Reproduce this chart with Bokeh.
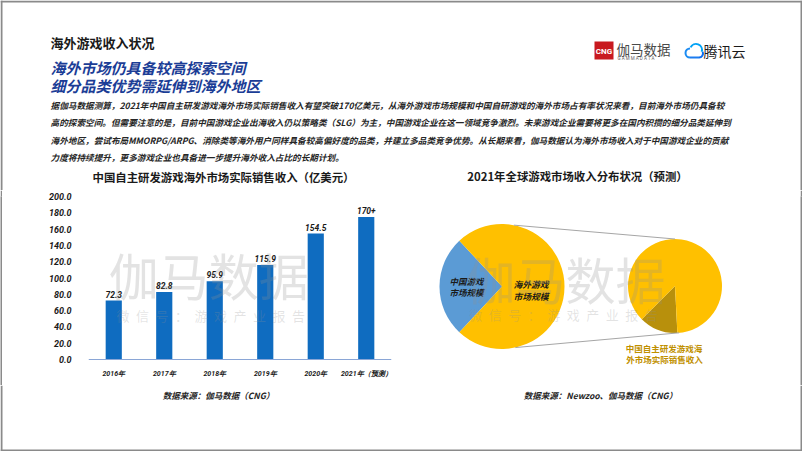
import numpy as np
from bokeh.plotting import figure
from bokeh.models import Range1d, FactorRange, FixedTicker, ColumnDataSource
from bokeh.layouts import column, row
from bokeh.embed import file_html
from bokeh.resources import INLINE
from bokeh.core.properties import value

# ---------------- data ----------------
page_title = "海外游戏收入状况"
headlines = ["海外市场仍具备较高探索空间", "细分品类优势需延伸到海外地区"]
paragraph_lines = [
    "据伽马数据测算，2021年中国自主研发游戏海外市场实际销售收入有望突破170亿美元，从海外游戏市场规模和中国自研游戏的海外市场占有率状况来看，目前海外市场仍具备较",
    "高的探索空间。但需要注意的是，目前中国游戏企业出海收入仍以策略类（SLG）为主，中国游戏企业在这一领域竞争激烈。未来游戏企业需要将更多在国内积攒的细分品类延伸到",
    "海外地区，尝试布局MMORPG/ARPG、消除类等海外用户同样具备较高偏好度的品类，并建立多品类竞争优势。从长期来看，伽马数据认为海外市场收入对于中国游戏企业的贡献",
    "力度将持续提升，更多游戏企业也具备进一步提升海外收入占比的长期计划。",
]
bar_title = "中国自主研发游戏海外市场实际销售收入（亿美元）"
pie_title = "2021年全球游戏市场收入分布状况（预测）"

years = ["2016年", "2017年", "2018年", "2019年", "2020年", "2021年（预测）"]
revenue = [72.3, 82.8, 95.9, 115.9, 154.5, 175.0]
revenue_labels = ["72.3", "82.8", "95.9", "115.9", "154.5", "170+"]
y_ticks = [0, 20, 40, 60, 80, 100, 120, 140, 160, 180, 200]
y_tick_labels = ["0.0", "20.0", "40.0", "60.0", "80.0", "100.0", "120.0", "140.0", "160.0", "180.0", "200.0"]

global_segments = ["中国游戏\n市场规模", "海外游戏\n市场规模"]
global_share = [26.1, 73.9]
overseas_segments = ["中国自主研发游戏海\n外市场实际销售收入", "其他"]
overseas_share = [13.3, 86.7]

sources = ["数据来源：伽马数据（CNG）", "数据来源：Newzoo、伽马数据（CNG）"]
watermark = ["伽马数据", "微\u2002信\u2002号\u2002：\u2002游\u2002戏\u2002产\u2002业\u2002报\u2002告"]

# ---------------- styles ----------------
CJK = value("Noto Sans CJK SC")
NUM = value("Roboto")
BORDER = "#8a8a8a"
BAR_BLUE = "#0f6cc0"
PIE_BLUE = "#5b9bd5"
PIE_YELLOW = "#ffc000"
PIE_DARK = "#b8900c"
HEAD_BLUE = "#1b3d96"

ROW_TOP, ROW_H = 190, 195
BORDER_TOP = 6                       # shared by all plots of the middle row
FRAME_TOP = ROW_TOP + BORDER_TOP     # 196 -> value 200
FRAME_BOTTOM = ROW_TOP + ROW_H       # 385
AXIS_Y = 359                         # pixel row of value 0
PX_PER_UNIT = (AXIS_Y - FRAME_TOP) / 200.0


def page_fig(w, h, x0, y0):
    p = figure(width=w, height=h, x_range=Range1d(x0, x0 + w), y_range=Range1d(y0 + h, y0),
               toolbar_location=None, output_backend="svg", min_border=0,
               x_axis_location=None, y_axis_location=None)
    p.grid.visible = False
    p.outline_line_color = None
    p.background_fill_color = "white"
    p.border_fill_color = "white"
    return p


def strip(h):
    p = figure(width=2, height=h, toolbar_location=None, output_backend="svg", min_border=0,
               min_border_top=BORDER_TOP, x_axis_location=None, y_axis_location=None)
    p.grid.visible = False
    p.outline_line_color = None
    p.background_fill_color = BORDER
    p.border_fill_color = BORDER
    return p


# ---------------- top area ----------------
top = page_fig(802, 190, 0, 0)
top.segment(x0=[0, 1, 801], y0=[1, 0, 0], x1=[802, 1, 801], y1=[1, 190, 190],
            line_color=BORDER, line_width=2)
top.text(x=[50], y=[42], text=[page_title], text_font=CJK, text_font_size="13px",
         text_font_style="bold", text_color="#1a1a1a", text_baseline="middle")
top.text(x=[50, 50], y=[67, 85], text=headlines, text_font=CJK, text_font_size="15px",
         text_font_style="bold italic", text_color=HEAD_BLUE, text_baseline="middle")
top.text(x=[50] * 4, y=[104, 121.5, 139, 156.5], text=paragraph_lines, text_font=CJK,
         text_font_size="8.65px", text_font_style="bold italic", text_color="#262626",
         text_baseline="middle")
top.text(x=[223, 577], y=[176, 175], text=[bar_title, pie_title], text_font=CJK,
         text_font_size="11.4px", text_font_style="bold", text_color="#1a1a1a",
         text_align="center", text_baseline="middle")
# logos
top.rect(x=[603.5], y=[50], width=19, height=18, fill_color="#c8191f", line_color=None)
top.text(x=[603.5], y=[50.5], text=["CNG"], text_font=NUM, text_font_size="8px",
         text_font_style="bold", text_color="white", text_align="center", text_baseline="middle")
top.text(x=[616], y=[48], text=["伽马数据"], text_font=CJK, text_font_size="13.5px",
         text_color="#4a4a4a", text_baseline="middle")
top.text(x=[617], y=[58], text=["G  A  M  M  A    D  A  T  A"], text_font=NUM, text_font_size="4.5px",
         text_color="#666666", text_baseline="middle")
top.arc(x=[689.5], y=[52.5], radius=4.5, start_angle=np.pi / 2, end_angle=3 * np.pi / 2,
        line_color="#1c8cf2", line_width=2)
top.arc(x=[695.5], y=[49.5], radius=6, start_angle=-0.3, end_angle=2.7,
        line_color="#00a2f5", line_width=2)
top.arc(x=[698.5], y=[53], radius=4, start_angle=-np.pi / 2, end_angle=0.4,
        line_color="#0a6cf0", line_width=2)
top.segment(x0=[689.5], y0=[57], x1=[698.5], y1=[57], line_color="#1c7cf0", line_width=2)
top.text(x=[703], y=[50], text=["腾讯云"], text_font=CJK, text_font_size="14px",
         text_color="#1a1a1a", text_baseline="middle")

# ---------------- bar chart ----------------
y_low = -(FRAME_BOTTOM - AXIS_Y) / PX_PER_UNIT
bar = figure(width=398, height=ROW_H, x_range=FactorRange(*years), y_range=Range1d(y_low, 200),
             toolbar_location=None, output_backend="svg",
             min_border_left=86, min_border_right=9,
             min_border_top=BORDER_TOP, min_border_bottom=0)
bar.grid.visible = False
bar.outline_line_color = None
src = ColumnDataSource(dict(x=years, top=revenue, lab=revenue_labels))
bar.vbar(x="x", top="top", width=0.32, source=src, fill_color=BAR_BLUE, line_color=None)
bar.text(x="x", y="top", text="lab", source=src, text_font=NUM, text_font_size="8.5px",
         text_font_style="bold italic", text_color="#1a1a1a", text_align="center",
         text_baseline="bottom", y_offset=-3)
bar.text(x=["2018年"], y=[105.5], text=[watermark[0]], x_offset=-6, text_font=CJK,
         text_font_size="50px", text_color="#909090", text_alpha=0.25,
         text_align="center", text_baseline="middle")
bar.text(x=["2018年"], y=[54], text=[watermark[1]], x_offset=-4, text_font=CJK,
         text_font_size="13px", text_color="#909090", text_alpha=0.25,
         text_align="center", text_baseline="middle")
bar.yaxis.ticker = FixedTicker(ticks=y_ticks)
bar.yaxis.major_label_overrides = dict(zip(y_ticks, y_tick_labels))
bar.yaxis.axis_line_color = None
bar.yaxis.major_tick_line_color = None
bar.yaxis.minor_tick_line_color = None
bar.yaxis.major_label_standoff = 11
bar.yaxis.major_label_text_font = "Roboto"
bar.yaxis.major_label_text_font_size = "9px"
bar.yaxis.major_label_text_font_style = "bold italic"
bar.yaxis.major_label_text_color = "#1a1a1a"
bar.xaxis.fixed_location = 0
bar.xaxis.axis_line_color = "#8aa6d6"
bar.xaxis.axis_line_width = 1.2
bar.xaxis.major_tick_line_color = None
bar.xaxis.minor_tick_line_color = None
bar.xaxis.major_label_standoff = 4
bar.xaxis.major_label_text_font = "Roboto"
bar.xaxis.major_label_text_font_size = "7px"
bar.xaxis.major_label_text_font_style = "bold italic"
bar.xaxis.major_label_text_color = "#1a1a1a"

# ---------------- pie of pie ----------------
pie = figure(width=400, height=ROW_H, x_range=Range1d(400, 800),
             y_range=Range1d(FRAME_BOTTOM, FRAME_TOP),
             toolbar_location=None, output_backend="svg",
             min_border_left=0, min_border_right=0,
             min_border_top=BORDER_TOP, min_border_bottom=0,
             x_axis_location=None, y_axis_location=None)
pie.grid.visible = False
pie.outline_line_color = None

cx1, cy1, r1 = 501.5, 286.0, 62.5
cx2, cy2, r2 = 674.5, 285.5, 47.0

g = np.array(global_share) / sum(global_share) * 2 * np.pi
g0 = np.pi - g[0] / 2
pie.wedge(x=cx1, y=cy1, radius=r1, start_angle=[g0, g0 + g[0]], end_angle=[g0 + g[0], g0 + g[0] + g[1]],
          fill_color=[PIE_BLUE, PIE_YELLOW], line_color=None)

o = np.array(overseas_share) / sum(overseas_share) * 2 * np.pi
o0 = np.deg2rad(225)
pie.wedge(x=cx2, y=cy2, radius=r2, start_angle=[o0, o0 + o[0]], end_angle=[o0 + o[0], o0 + o[0] + o[1]],
          fill_color=[PIE_DARK, PIE_YELLOW], line_color=None)

a_big = np.deg2rad([79, -77.7])
a_small = np.deg2rad([90, -85])
pie.segment(x0=cx1 + r1 * np.cos(a_big), y0=cy1 - r1 * np.sin(a_big),
            x1=cx2 + r2 * np.cos(a_small), y1=cy2 - r2 * np.sin(a_small),
            line_color="#a6a6a6", line_width=1)

cn_lines = global_segments[0].split("\n")
ov_lines = global_segments[1].split("\n")
pie.text(x=[466, 466], y=[280.5, 291], text=cn_lines, text_font=CJK, text_font_size="8.5px",
         text_font_style="bold italic", text_color="#1a1a1a", text_align="center", text_baseline="middle")
pie.text(x=[530.5, 530.5], y=[284, 295.5], text=ov_lines, text_font=CJK, text_font_size="8.8px",
         text_font_style="bold italic", text_color="#1a1a1a", text_align="center", text_baseline="middle")
sm_lines = overseas_segments[0].split("\n")
pie.text(x=[663.5, 664], y=[347.3, 358], text=sm_lines, text_font=CJK, text_font_size="8.5px",
         text_font_style="bold", text_color="#bf9000", text_align="center", text_baseline="middle")
pie.text(x=[565], y=[277], text=[watermark[0]], text_font=CJK, text_font_size="50px",
         text_color="#909090", text_alpha=0.25, text_align="center", text_baseline="middle")
pie.text(x=[563], y=[314], text=[watermark[1]], text_font=CJK, text_font_size="13px",
         text_color="#909090", text_alpha=0.25, text_align="center", text_baseline="middle")

# ---------------- bottom ----------------
bottom = page_fig(802, 66, 0, 385)
bottom.segment(x0=[1, 801, 0], y0=[385, 385, 450], x1=[1, 801, 802], y1=[451, 451, 450],
               line_color=BORDER, line_width=2)
bottom.text(x=[218, 600], y=[394, 394], text=sources, text_font=CJK, text_font_size="8.5px",
            text_font_style="bold italic", text_color="#262626", text_align="center",
            text_baseline="middle")

layout = column(top, row(strip(ROW_H), bar, pie, strip(ROW_H)), bottom)
open("out.html", "w").write(file_html(layout, INLINE))
